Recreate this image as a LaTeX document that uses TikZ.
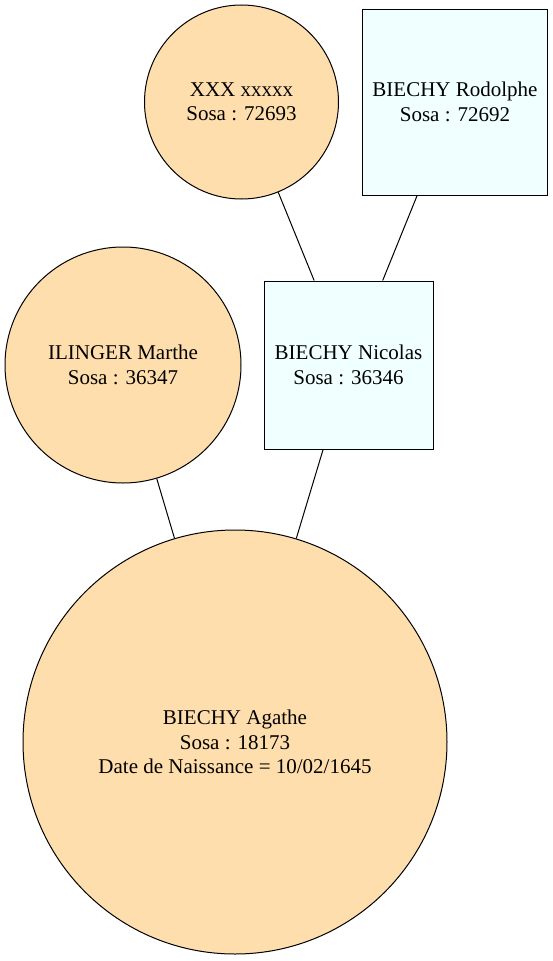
\documentclass[tikz,border=0pt]{standalone}
\usepackage{fontspec}
\setmainfont{Liberation Serif}
\definecolor{navajo}{HTML}{FFDEAD}
\definecolor{azurec}{HTML}{F0FFFF}
\begin{document}
\begin{tikzpicture}[x=1pt,y=-1pt,
  every node/.style={font=\fontsize{21}{24.5}\selectfont, align=center, inner sep=0pt, line width=1pt, draw=black},
  femme/.style={circle, fill=navajo},
  homme/.style={rectangle, fill=azurec},
  lien/.style={line width=1pt, black}]
\useasboundingbox (0,0) rectangle (553,961);
\fill[white] (0,0) rectangle (553,961);
\node[femme, minimum size=194pt] (xxx) at (241.5,102) {XXX xxxxx\\Sosa : 72693};
\node[homme, minimum width=185pt, minimum height=186pt] (rod) at (455,102) {BIECHY Rodolphe\\Sosa : 72692};
\node[femme, minimum size=236pt] (mar) at (123,365) {ILINGER Marthe\\Sosa : 36347};
\node[homme, minimum width=169pt, minimum height=168pt] (nic) at (348.5,365) {BIECHY Nicolas\\Sosa : 36346};
\node[femme, minimum size=424pt] (aga) at (235,742) {BIECHY Agathe\\Sosa : 18173\\Date de Naissance = 10/02/1645};
\draw[lien] (xxx) -- (nic);
\draw[lien] (rod) -- (nic);
\draw[lien] (mar) -- (aga);
\draw[lien] (nic) -- (aga);
\end{tikzpicture}
\end{document}
